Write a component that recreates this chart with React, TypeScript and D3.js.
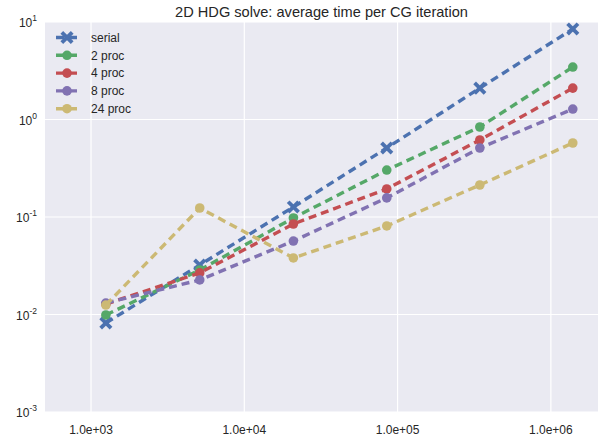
import * as d3 from 'd3';

// problem sizes (x) and average time per CG iteration (y)
const sizes = [1250, 5120, 20900, 85000, 344000, 1390000];
const serial = [0.00818, 0.0322, 0.1267, 0.51, 2.1, 8.48];
const proc2 = [0.00989, 0.0286, 0.0977, 0.303, 0.838, 3.45];
const proc4 = [0.0128, 0.0267, 0.0848, 0.194, 0.617, 2.1];
const proc8 = [0.0131, 0.0226, 0.0567, 0.157, 0.51, 1.28];
const proc24 = [0.0125, 0.1237, 0.038, 0.0809, 0.213, 0.574];

const seriesNames = ['serial', '2 proc', '4 proc', '8 proc', '24 proc'];
const seriesColors = ['#4C72B0', '#55A868', '#C44E52', '#8172B2', '#CCB974'];
const seriesValues = [serial, proc2, proc4, proc8, proc24];

const xTicks = [1e3, 1e4, 1e5, 1e6];
const xTickLabels = ['1.0e+03', '1.0e+04', '1.0e+05', '1.0e+06'];
const yTicks = [1e1, 1e0, 1e-1, 1e-2, 1e-3];
const yTickExps = ['1', '0', '-1', '-2', '-3'];

const W = 613;
const H = 440;
const margin = { top: 22, right: 15, bottom: 28, left: 45 };
const font = '"Liberation Sans", Arial, sans-serif';

const Marker = ({ x, y, color, cross }: { x: number; y: number; color: string; cross: boolean }) =>
  cross ? (
    <g stroke={color} strokeWidth={3.8}>
      <line x1={x - 5.2} y1={y - 5.2} x2={x + 5.2} y2={y + 5.2} />
      <line x1={x - 5.2} y1={y + 5.2} x2={x + 5.2} y2={y - 5.2} />
    </g>
  ) : (
    <circle cx={x} cy={y} r={4.8} fill={color} />
  );

export default function App() {
  const innerW = W - margin.left - margin.right;
  const innerH = H - margin.top - margin.bottom;

  const xScale = d3.scaleLog().domain([501, 2.03e6]).range([margin.left, margin.left + innerW]);
  const yScale = d3.scaleLog().domain([1e-3, 1e1]).range([margin.top + innerH, margin.top]);

  const line = d3
    .line<[number, number]>()
    .x(d => xScale(d[0]))
    .y(d => yScale(d[1]));

  return (
    <svg
      width={W}
      height={H}
      style={{ position: 'absolute', left: 0, top: 0, background: '#fff' }}
      fontFamily={font}
    >
      <rect x={margin.left} y={margin.top} width={innerW} height={innerH} fill="#EAEAF2" />

      {/* grid */}
      {xTicks.map(t => (
        <line key={'gx' + t} x1={xScale(t)} x2={xScale(t)} y1={margin.top} y2={margin.top + innerH} stroke="#fff" strokeWidth={1.2} />
      ))}
      {yTicks.map(t => (
        <line key={'gy' + t} x1={margin.left} x2={margin.left + innerW} y1={yScale(t)} y2={yScale(t)} stroke="#fff" strokeWidth={1.2} />
      ))}

      {/* tick labels */}
      {xTicks.map((t, i) => (
        <text key={'xl' + t} x={xScale(t)} y={434} textAnchor="middle" fontSize={12} fill="#262626">
          {xTickLabels[i]}
        </text>
      ))}
      {yTicks.map((t, i) => (
        <text key={'yl' + t} x={37} y={yScale(t) + 5} textAnchor="end" fontSize={12} fill="#262626">
          10
          <tspan dy={-6} fontSize={8.5}>
            {yTickExps[i]}
          </tspan>
        </text>
      ))}

      {/* series */}
      <g>
        {seriesValues.map((vals, si) => {
          const pts = sizes.map((s, i) => [s, vals[i]] as [number, number]);
          return (
            <g key={seriesNames[si]}>
              <path d={line(pts) || ''} fill="none" stroke={seriesColors[si]} strokeWidth={3.4} strokeDasharray="8,5" />
              {pts.map((p, i) => (
                <Marker key={i} x={xScale(p[0])} y={yScale(p[1])} color={seriesColors[si]} cross={si === 0} />
              ))}
            </g>
          );
        })}
      </g>

      {/* legend */}
      {seriesNames.map((name, i) => {
        const y = 37.5 + i * 17.8;
        return (
          <g key={'lg' + name}>
            <line x1={56} x2={78} y1={y} y2={y} stroke={seriesColors[i]} strokeWidth={3.4} strokeDasharray="8,5" />
            <Marker x={67} y={y} color={seriesColors[i]} cross={i === 0} />
            <text x={91} y={y + 4.3} fontSize={12} fill="#262626">
              {name}
            </text>
          </g>
        );
      })}

      <text x={margin.left + innerW / 2} y={17} textAnchor="middle" fontSize={14.6} fill="#262626">
        2D HDG solve: average time per CG iteration
      </text>
    </svg>
  );
}
